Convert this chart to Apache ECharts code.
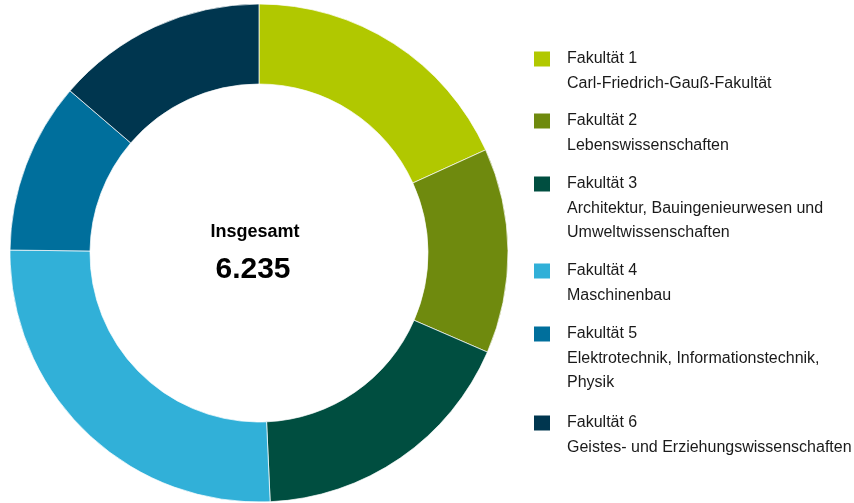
<!DOCTYPE html>
<html>
<head>
<meta charset="utf-8">
<script src="https://cdn.jsdelivr.net/npm/echarts@6/dist/echarts.min.js"></script>
<style>
html, body { margin: 0; padding: 0; background: #fff; }
#chart { width: 854px; height: 503px; }
</style>
</head>
<body>
<div id="chart"></div>
<script>
var faculties = ['Fakultät 1', 'Fakultät 2', 'Fakultät 3', 'Fakultät 4', 'Fakultät 5', 'Fakultät 6'];
var descriptions = [
    'Carl-Friedrich-Gauß-Fakultät',
    'Lebenswissenschaften',
    'Architektur, Bauingenieurwesen und\nUmweltwissenschaften',
    'Maschinenbau',
    'Elektrotechnik, Informationstechnik,\nPhysik',
    'Geistes- und Erziehungswissenschaften'
];
var students = [1135, 830, 1108, 1615, 692, 855];
var colors = ['#b1c800', '#6f8a0e', '#004e40', '#31b0d8', '#006f9c', '#00364f'];

var total = students.reduce(function (a, b) { return a + b; }, 0);
// Tausenderpunkt
var totalText = String(total).replace(/\B(?=(\d{3})+(?!\d))/g, '.');

var myChart = echarts.init(document.getElementById('chart'));

// Oberkante der Legendenquadrate
var legendTops = [51, 113, 176, 263, 326, 415];

var legends = [];
var graphics = [];
faculties.forEach(function (name, i) {
    legends.push({
        data: [name],
        left: 534,
        top: legendTops[i],
        padding: 0,
        itemWidth: 16,
        itemHeight: 15,
        icon: 'rect',
        selectedMode: false,
        itemStyle: { borderWidth: 0 },
        textStyle: {
            fontFamily: 'Liberation Sans, Arial, sans-serif',
            fontSize: 16,
            color: '#1a1a1a',
            padding: [3, 0, 0, 12]
        }
    });
    graphics.push({
        type: 'text',
        left: 567,
        top: legendTops[i] + 21,
        style: {
            text: descriptions[i],
            font: '16px "Liberation Sans", Arial, sans-serif',
            lineHeight: 23.5,
            fill: '#1a1a1a'
        }
    });
});

option = {
    animation: false,
    color: colors,
    title: [
        {
            text: 'Insgesamt',
            left: 255,
            top: 223,
            padding: 0,
            textAlign: 'center',
            textStyle: {
                fontFamily: 'Liberation Sans, Arial, sans-serif',
                fontSize: 18,
                fontWeight: 'bold',
                color: '#000'
            }
        },
        {
            text: totalText,
            left: 253,
            top: 255,
            padding: 0,
            textAlign: 'center',
            textStyle: {
                fontFamily: 'Liberation Sans, Arial, sans-serif',
                fontSize: 30,
                fontWeight: 'bold',
                color: '#000'
            }
        }
    ],
    legend: legends,
    graphic: graphics,
    series: [{
        type: 'pie',
        center: [259, 253],
        radius: [169, 249],
        startAngle: 90,
        clockwise: true,
        label: { show: false },
        labelLine: { show: false },
        emphasis: { disabled: true },
        itemStyle: {
            borderColor: '#fff',
            borderWidth: 0.7
        },
        data: faculties.map(function (name, i) {
            return { name: name, value: students[i] };
        })
    }]
};
myChart.setOption(option);
</script>
</body>
</html>
